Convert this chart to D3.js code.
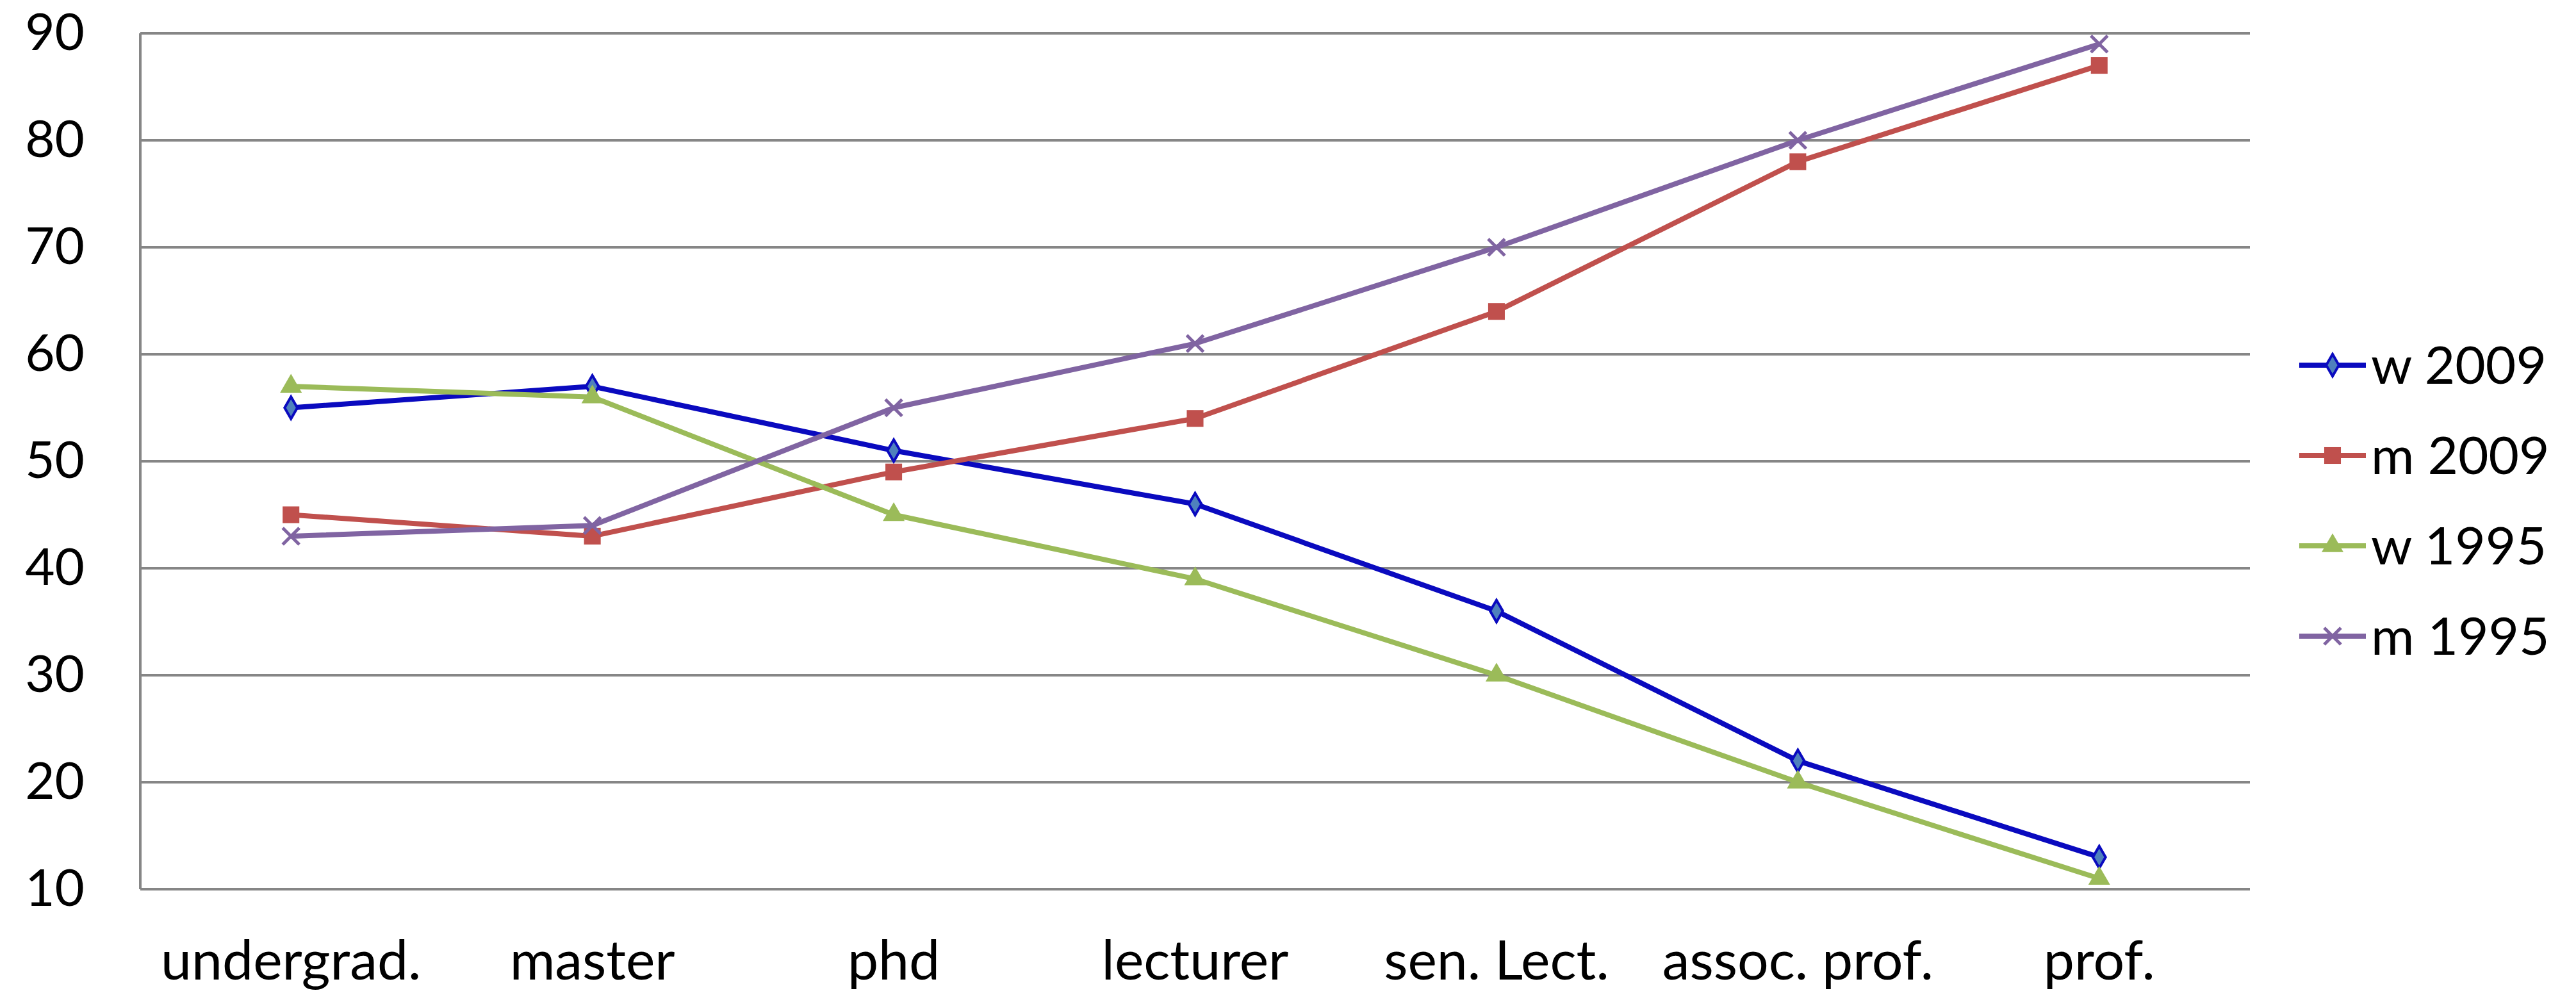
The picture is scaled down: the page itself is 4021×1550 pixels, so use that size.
<!DOCTYPE html>
<html>
<head>
<meta charset="utf-8">
<script src="https://cdn.jsdelivr.net/npm/d3@7"></script>
<style>
  body { margin: 0; background: #fff; }
  text { font-family: Lato, "Open Sans", sans-serif; fill: #000; }
</style>
</head>
<body>
<div id="chart"></div>
<script>
// Data
var categories = ["undergrad.", "master", "phd", "lecturer", "sen. Lect.", "assoc. prof.", "prof."];
var w2009 = [55, 57, 51, 46, 36, 22, 13];
var m2009 = [45, 43, 49, 54, 64, 78, 87];
var w1995 = [57, 56, 45, 39, 30, 20, 11];
var m1995 = [43, 44, 55, 61, 70, 80, 89];
var seriesNames = ["w 2009", "m 2009", "w 1995", "m 1995"];
var yTicks = [10, 20, 30, 40, 50, 60, 70, 80, 90];

var svgWidth = 4021;
var svgHeight = 1550;

var chartMargin = { top: 52, right: 509, bottom: 162, left: 219 };
var chartWidth = svgWidth - chartMargin.left - chartMargin.right;
var chartHeight = svgHeight - chartMargin.top - chartMargin.bottom;

var svg = d3.select("#chart")
  .append("svg")
  .attr("width", svgWidth)
  .attr("height", svgHeight);

var chartGroup = svg.append("g")
  .attr("transform", `translate(${chartMargin.left}, ${chartMargin.top})`);

var xScale = d3.scaleBand()
  .domain(categories)
  .range([0, chartWidth]);

var yScale = d3.scaleLinear()
  .domain([10, 90])
  .range([chartHeight, 0]);

// gridlines
chartGroup.selectAll(".grid")
  .data(yTicks)
  .enter()
  .append("line")
  .attr("x1", 0)
  .attr("x2", chartWidth)
  .attr("y1", d => yScale(d))
  .attr("y2", d => yScale(d))
  .attr("stroke", "#868686")
  .attr("stroke-width", 4);

// left axis line
chartGroup.append("line")
  .attr("x1", 0).attr("x2", 0)
  .attr("y1", 0).attr("y2", chartHeight)
  .attr("stroke", "#868686")
  .attr("stroke-width", 4);

// y axis labels
var leftAxis = d3.axisLeft(yScale).tickValues(yTicks).tickSize(0).tickPadding(87);
var yAxis = chartGroup.append("g").call(leftAxis);
yAxis.select(".domain").remove();
yAxis.selectAll("text")
  .style("font-size", "80px")
  .style("font-family", "Lato, sans-serif")
  .attr("fill", "#000");

// x axis labels
var bottomAxis = d3.axisBottom(xScale).tickSize(0).tickPadding(80);
var xAxis = chartGroup.append("g")
  .attr("transform", `translate(0, ${chartHeight})`)
  .call(bottomAxis);
xAxis.select(".domain").remove();
xAxis.selectAll("text")
  .style("font-size", "86px")
  .style("font-family", "Lato, sans-serif")
  .attr("fill", "#000");

var series = [
  { name: seriesNames[0], values: w2009, color: "#0A0ABF", fill: "#4F81BD", symbol: d3.symbolDiamond, size: 340 },
  { name: seriesNames[1], values: m2009, color: "#C0504D", fill: "#C0504D", symbol: d3.symbolSquare, size: 680 },
  { name: seriesNames[2], values: w1995, color: "#9BBB59", fill: "#9BBB59", symbol: d3.symbolTriangle, size: 500 },
  { name: seriesNames[3], values: m1995, color: "#8064A2", fill: "none", symbol: d3.symbolCross, size: 700 }
];

var line = d3.line()
  .x((d, i) => xScale(categories[i]) + xScale.bandwidth() / 2)
  .y(d => yScale(d));

function drawMarker(g, s) {
  if (s.name === "m 1995") {
    g.append("path")
      .attr("d", "M-13,-13L13,13M-13,13L13,-13")
      .attr("stroke", s.color)
      .attr("stroke-width", 5)
      .attr("fill", "none");
  } else if (s.name === "w 2009") {
    g.append("path")
      .attr("d", d3.symbol().type(s.symbol).size(s.size)())
      .attr("fill", s.fill)
      .attr("stroke", s.color)
      .attr("stroke-width", 4);
  } else {
    g.append("path")
      .attr("d", d3.symbol().type(s.symbol).size(s.size)())
      .attr("fill", s.fill)
      .attr("stroke", "none");
  }
}

series.forEach(function(s) {
  chartGroup.append("path")
    .datum(s.values)
    .attr("d", line)
    .attr("fill", "none")
    .attr("stroke", s.color)
    .attr("stroke-width", 8)
    .attr("stroke-linejoin", "round");

  s.values.forEach(function(v, i) {
    var g = chartGroup.append("g")
      .attr("transform", `translate(${xScale(categories[i]) + xScale.bandwidth() / 2}, ${yScale(v)})`);
    drawMarker(g, s);
  });
});

// legend
var legend = svg.append("g")
  .attr("transform", "translate(3589, 570)");

series.forEach(function(s, i) {
  var row = legend.append("g")
    .attr("transform", `translate(0, ${i * 141})`);
  row.append("line")
    .attr("x1", 0).attr("x2", 104)
    .attr("y1", 0).attr("y2", 0)
    .attr("stroke", s.color)
    .attr("stroke-width", 8);
  var m = row.append("g").attr("transform", "translate(52, 0)");
  drawMarker(m, s);
  row.append("text")
    .attr("x", 112)
    .attr("y", 0)
    .attr("dy", "0.35em")
    .style("font-size", "82px")
    .text(s.name);
});
</script>
</body>
</html>
